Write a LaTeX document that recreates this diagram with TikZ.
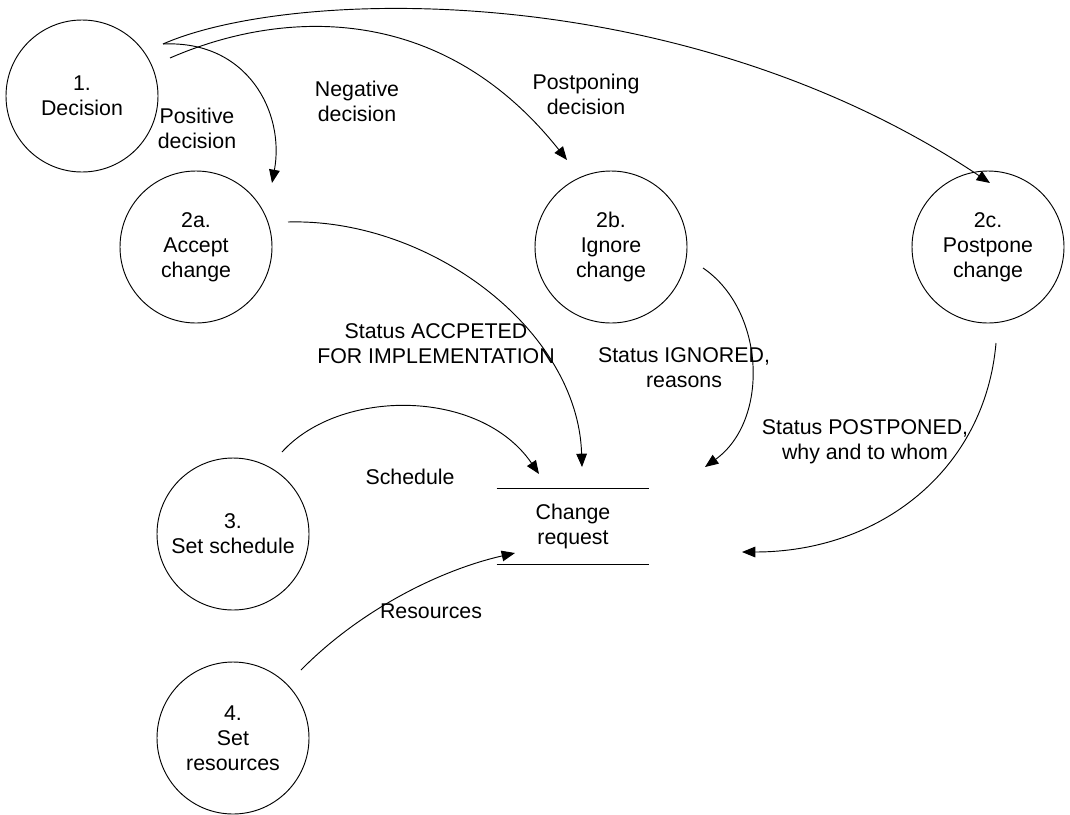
\documentclass[tikz,border=0pt]{standalone}
\usepackage{fontspec}
\setmainfont{Liberation Sans}
\usetikzlibrary{arrows.meta}
\begin{document}
\begin{tikzpicture}[x=0.75pt,y=-0.75pt,
  every node/.style={font=\fontsize{16pt}{18.75pt}\selectfont, align=center, inner sep=0pt},
  process/.style={draw, circle, minimum size=114pt, line width=0.7pt},
  store/.style={minimum width=114pt, minimum height=56.25pt},
  flow/.style={draw, line width=0.7pt, -{Triangle[length=10pt,width=8pt]}}]
\useasboundingbox (0,0) rectangle (1070,814);

% processes
\node[process] (p1)  at (82,96)   {1.\\Decision};
\node[process] (p2a) at (196,247) {2a.\\Accept\\change};
\node[process] (p2b) at (611,247) {2b.\\Ignore\\change};
\node[process] (p2c) at (988,247) {2c.\\Postpone\\change};
\node[process] (p3)  at (233,534) {3.\\Set schedule};
\node[process] (p4)  at (233,738) {4.\\Set\\resources};

% data store
\node[store] (cr) at (573,526.5) {Change\\request};
\draw[line width=0.7pt] (cr.north west) -- (cr.north east);
\draw[line width=0.7pt] (cr.south west) -- (cr.south east);

% free ends of the flows
\coordinate (d1a) at (163,44);
\coordinate (d1b) at (170,58);
\coordinate (in2a) at (272,183);
\coordinate (in2b) at (567,160);
\coordinate (in2c) at (990,183);
\coordinate (out2a) at (288,222);
\coordinate (out2b) at (703,268);
\coordinate (out2c) at (996,343);
\coordinate (out3) at (282,452);
\coordinate (out4) at (301,670);
\coordinate (crA) at (582,467);
\coordinate (crB) at (705,467);
\coordinate (crC) at (742,552);
\coordinate (crS) at (539,474);
\coordinate (crR) at (515,553);

% flows
\draw[flow] (d1a) .. controls (248,40) and (285,113) .. (in2a);
\draw[flow] (d1b) .. controls (280,10) and (440,0) .. (in2b);
\draw[flow] (d1a) .. controls (290,-12) and (680,-24) .. (in2c);
\draw[flow] (out2a) .. controls (430,218) and (578,330) .. (crA);
\draw[flow] (out2b) .. controls (765,310) and (770,420) .. (crB);
\draw[flow] (out2c) .. controls (985,470) and (880,552) .. (crC);
\draw[flow] (out3) .. controls (340,388) and (480,388) .. (crS);
\draw[flow] (out4) .. controls (360,610) and (440,570) .. (crR);

% flow labels
\node (lpos) at (197,128) {Positive\\decision};
\node (lneg) at (357,101) {Negative\\decision};
\node (lpp)  at (586,94)  {Postponing\\decision};
\node (lacc) at (436,344) {Status ACCPETED\\FOR IMPLEMENTATION};
\node (lign) at (684,368) {Status IGNORED,\\reasons};
\node (lpst) at (865,442) {Status POSTPONED,\\why and to whom};
\node (lsch) at (410,477) {Schedule};
\node (lres) at (431,611) {Resources};
\end{tikzpicture}
\end{document}
